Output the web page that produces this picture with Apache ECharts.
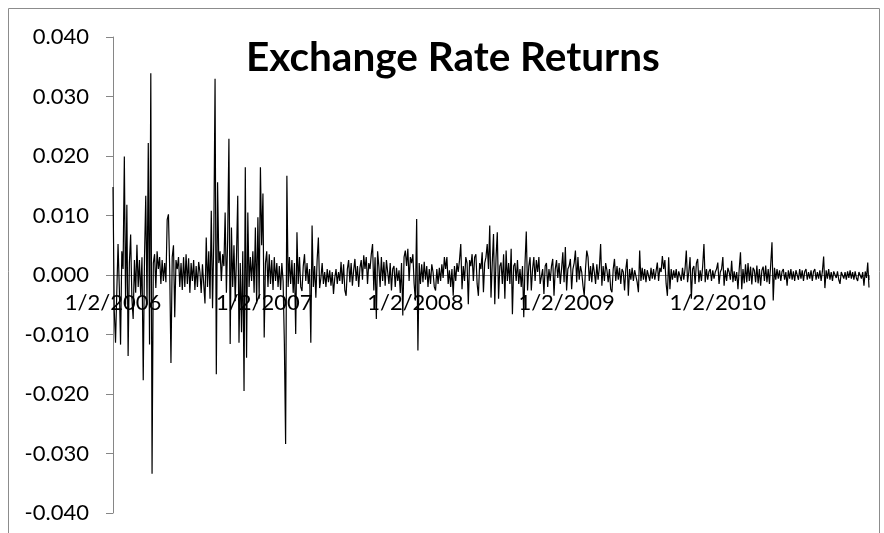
<!DOCTYPE html>
<html>
<head>
<meta charset="utf-8">
<script src="https://cdn.jsdelivr.net/npm/echarts@6/dist/echarts.min.js"></script>
<style>
  html, body { margin: 0; padding: 0; background: #fff; }
  #chart { width: 884px; height: 533px; }
</style>
</head>
<body>
<div id="chart"></div>
<script>
// daily returns, in units of 1e-4
const returns2006 = [
  148, -60, -114, -30, 52, -20, -117, 40, 10, 199, -50, 118, -136, 20, 68, -40, -74, 25, -30, 51,
  -20, 25, -35, 30, -177, 30, 133, -50, 222, -117, 339, -334, 20, 35, -22, 40, 10, 30, -15, 25,
  -10, 20, -12, 93, 102, 10, -148, 30, 50, -71, 25, 10, 30, -20, 20, -25, 30, -20, 35, -15,
  28, -30, 20, -10, 25, -25, 15, -20, 22, 5, -30, 18, -15, -48, 63, -20, 40, -40, 108, -56,
  60, 330, -167, 156, 20, 40, -10, 35, 15, 105, -30, 60, 229, -116, 80, -20, 50, -44, 30, 133,
  -114, 20, -96, 40, -195, 181, -139, 105, -20, 30, -10, 40, -30, 80, -48, 97, -40, 181, 50, 137
];
const returns2007 = [
  -105, 20, 40, -20, 35, -15, 25, -25, 30, -10, 20, -20, 15, -25, 20, -10, -114, -284, 167, -20,
  30, -15, 25, -30, 20, -99, 72, -15, 30, -20, -27, 15, 35, -10, 20, -15, 10, -114, 83, -20,
  15, -38, 25, 63, -22, -5, 20, -15, 5, -20, 10, -12, 8, -18, 5, -32, -5, 10, -15, 5,
  -10, 22, -15, 18, -26, -35, 10, 25, -12, 20, -18, 8, 27, -10, 15, -20, 12, 25, -8, 33,
  10, 30, -15, 20, 10, 35, 52, -26, 30, -74, 40, 15, -20, 30, -10, 22, -18, 25, 5, -15,
  20, -26, 10, 15, -20, 12, -10, 8, -30, 20, -68, 30, 41, 15, 44, -10, 30, 20, 35, -15
];
const returns2008 = [
  -43, 94, -127, 20, -15, 18, -12, 22, -8, 15, -20, 10, -15, 18, 5, -20, -26, 10, -15, 12,
  -10, 18, -5, 30, 10, 30, -15, 8, -20, 10, -35, 15, -10, 20, 5, 25, 52, -24, 15, -10,
  30, 20, -49, 25, 15, 35, -10, 30, 35, -15, -35, 20, 10, 38, -29, 20, 30, 52, 10, 83,
  -38, 20, 69, -49, 30, 72, -40, 15, 21, -15, 35, -40, 41, -10, 20, -15, 44, -66, 15, 20,
  -10, 25, -15, 10, -20, 15, -71, 20, 73, -26, 15, 30, -26, 10, 30, -10, 25, 5, 30, -15,
  -18, 10, -32, 15, 20, -20, 10, -10, 15, 27, -35, 10, 25, -5, 20, -15, 10, 38, -12, 47
];
const returns2009 = [
  -26, 10, 15, 27, -24, 10, 20, 41, -12, 30, -8, 15, 5, -18, -35, 10, 41, 30, -10, 15,
  -12, 20, 5, -15, 18, -8, 12, 52, -18, 15, -10, 20, 8, -12, 10, -24, -29, 10, 27, -10,
  15, -8, 12, -15, 10, 5, -26, 10, 27, -35, 10, -8, 12, -10, 8, 5, -12, -29, 41, -10,
  12, -8, 10, -12, 8, 5, -10, 12, -6, 10, -8, 6, 21, -10, 12, 5, 32, 10, 25, -15,
  -35, 30, -24, 10, -8, 8, -5, 10, -12, 6, 8, -10, 12, -8, 10, 41, -12, 5, 30, -40,
  10, 15, -15, 20, 27, -12, 8, -10, 15, 52, -12, 10, -8, 6, 10, -10, 8, -6, 5, 10
];
const returns2010 = [
  21, -15, 5, 10, 30, -18, 8, -10, 12, 5, -8, 24, -12, 6, -10, 5, -24, 10, 38, -24,
  10, -14, 18, -12, 20, -10, 14, -16, 12, 8, -12, 16, -14, 10, -18, 8, 14, -10, 16, -12,
  10, -15, 18, 55, -43, 12, -8, 10, -6, 8, -10, 6, 10, -8, 5, -18, 8, -6, 10, -8,
  6, -10, 8, 5, -8, 10, -6, 8, -10, 6, 10, -8, 5, -6, 8, -10, 6, 10, -8, 5,
  -6, 8, -10, 6, 31, -22, 8, -6, 10, -8, 5, -10, 6, 8, -5, 6, -8, -15, 5, 8,
  -6, 5, -8, 6, -5, 8, -6, 5, -8, 6, -5, -10, 5, 8, -6, 5, -18, 6, -5, 21, -21
];
const tickLabels = ['1/2/2006', '1/2/2007', '1/2/2008', '1/2/2009', '1/2/2010'];
const pointsPerYear = 120;
const unit = 1e-4;

const returns = [].concat(returns2006, returns2007, returns2008, returns2009, returns2010);
const seriesData = returns.map((r, i) => [i, r * unit]);

const chart = echarts.init(document.getElementById('chart'), null, { renderer: 'canvas' });
const axisGray = '#868686';
const font = 'Lato, "Open Sans", sans-serif';

// plot is 476px tall; the date axis sits on the zero line, half way up
const plotHeight = 476;

chart.setOption({
  animation: false,
  title: {
    text: 'Exchange Rate Returns',
    left: 241,
    top: 32,
    textStyle: { fontFamily: font, fontWeight: 'bold', fontSize: 40.5, color: '#000' },
  },
  graphic: [
    {
      type: 'rect',
      shape: { x: 8.5, y: 8.5, width: 871, height: 600 },
      style: { fill: 'none', stroke: '#8c8c8c', lineWidth: 1 },
      silent: true,
    },
  ],
  grid: { left: 113, right: 15, top: 37, bottom: 20, outerBoundsMode: 'none' },
  xAxis: {
    type: 'value',
    position: 'bottom',
    offset: -plotHeight / 2,
    min: 0,
    max: returns.length - 1,
    interval: pointsPerYear,
    axisLine: { onZero: false, lineStyle: { color: axisGray, width: 1 } },
    axisTick: { show: true, length: 5, lineStyle: { color: axisGray } },
    splitLine: { show: false },
    axisLabel: {
      margin: 17,
      fontFamily: font,
      fontSize: 22,
      color: '#000',
      formatter: (v) => tickLabels[Math.round(v / pointsPerYear)] || '',
    },
  },
  yAxis: {
    type: 'value',
    min: -0.04,
    max: 0.04,
    interval: 0.01,
    axisLine: { show: true, onZero: false, lineStyle: { color: axisGray, width: 1 } },
    axisTick: { show: true, length: 7, lineStyle: { color: axisGray } },
    splitLine: { show: false },
    axisLabel: {
      margin: 24,
      fontFamily: font,
      fontSize: 22,
      color: '#000',
      formatter: (v) => v.toFixed(3),
    },
  },
  series: [
    {
      type: 'line',
      data: seriesData,
      showSymbol: false,
      symbol: 'none',
      lineStyle: { color: '#000', width: 1.2 },
      z: 3,
    },
  ],
});
</script>
</body>
</html>
